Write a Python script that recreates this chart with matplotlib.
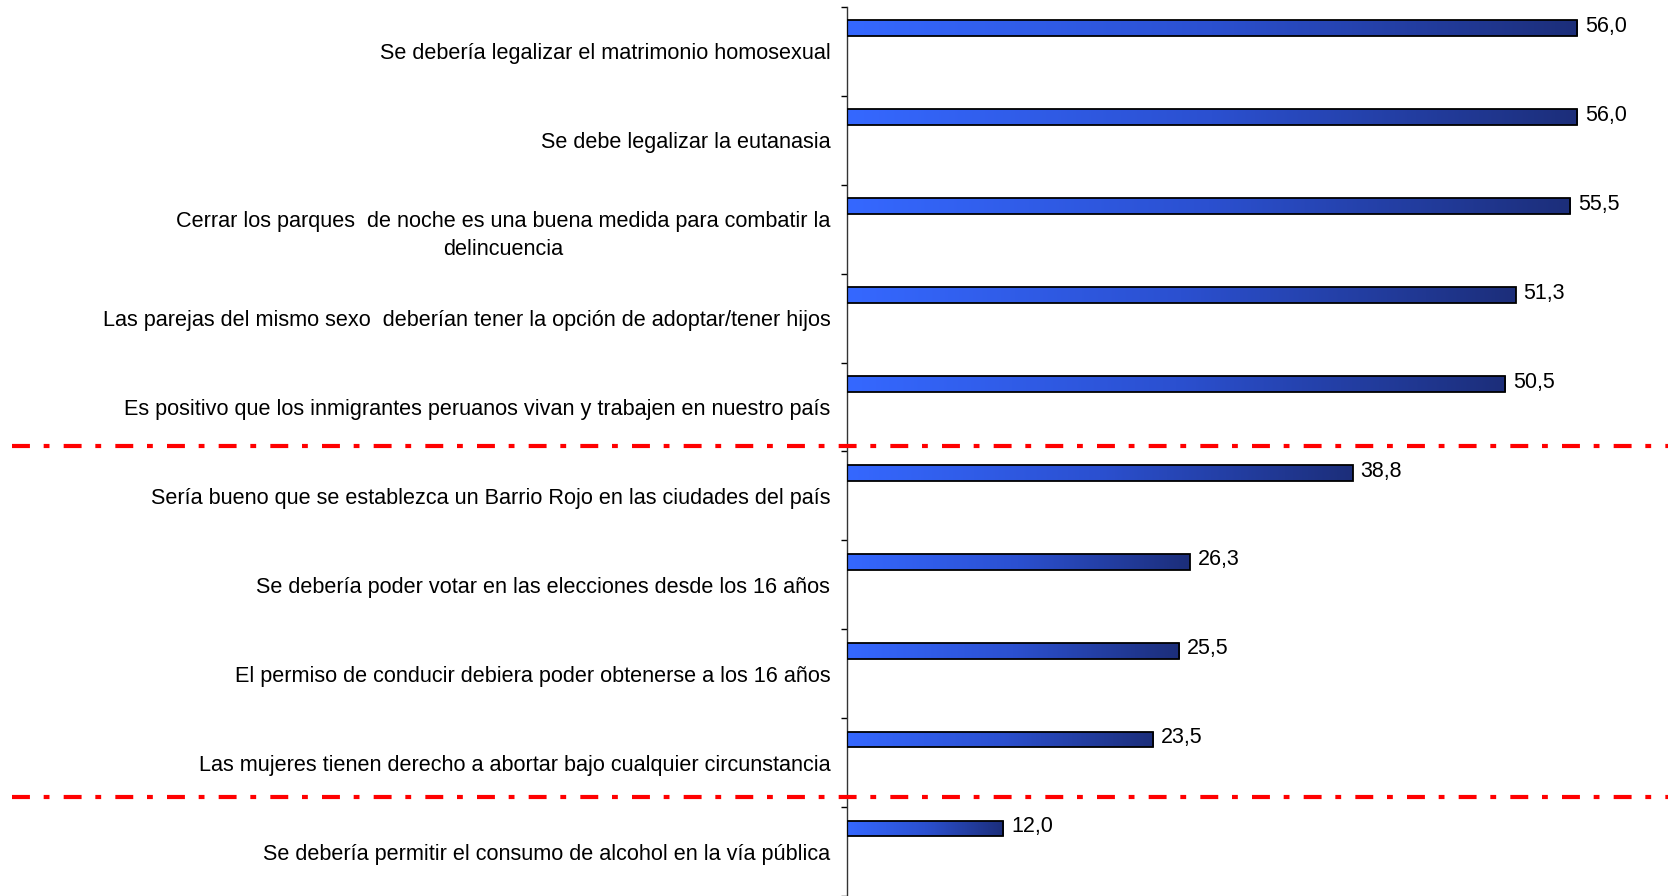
import numpy as np
import matplotlib
matplotlib.use("Agg")
import matplotlib.pyplot as plt
from matplotlib.colors import LinearSegmentedColormap
from matplotlib.patches import Rectangle

categories = [
    "Se debería legalizar el matrimonio homosexual",
    "Se debe legalizar la eutanasia",
    "Cerrar los parques  de noche es una buena medida para combatir la\ndelincuencia",
    "Las parejas del mismo sexo  deberían tener la opción de adoptar/tener hijos",
    "Es positivo que los inmigrantes peruanos vivan y trabajen en nuestro país",
    "Sería bueno que se establezca un Barrio Rojo en las ciudades del país",
    "Se debería poder votar en las elecciones desde los 16 años",
    "El permiso de conducir debiera poder obtenerse a los 16 años",
    "Las mujeres tienen derecho a abortar bajo cualquier circunstancia",
    "Se debería permitir el consumo de alcohol en la vía pública",
]
values = [56.0, 56.0, 55.5, 51.3, 50.5, 38.8, 26.3, 25.5, 23.5, 12.0]
value_labels = ["56,0", "56,0", "55,5", "51,3", "50,5", "38,8", "26,3", "25,5", "23,5", "12,0"]
separator_positions = [4.44, 8.39]

plt.rcParams['font.family'] = ['Liberation Sans', 'DejaVu Sans']

W, H = 1668, 896
fig = plt.figure(figsize=(W / 100, H / 100), dpi=100)
ax_left = 847 / W
ax_top = 7 / H
ax = fig.add_axes([ax_left, 0, 1 - ax_left, 1 - ax_top])

n = len(categories)
xmax = (W - 847) / (730 / 56.0)

cmap = LinearSegmentedColormap.from_list("g", ["#3568FF", "#2B50D0", "#1C2E7A"])
grad = np.linspace(0, 1, 256).reshape(1, -1)

offset = -0.26
height = 0.178
for i, v in enumerate(values):
    y0 = i + offset - height / 2
    rect = Rectangle((0, y0), v, height, facecolor="none", edgecolor="black", linewidth=1.3, zorder=3)
    ax.add_patch(rect)
    im = ax.imshow(grad, cmap=cmap, aspect="auto", extent=(0, v, y0 + height, y0), zorder=2, interpolation="bicubic")
    im.set_clip_path(rect)
    ax.text(v + 0.6, i + offset - 0.02, value_labels[i], va="center", ha="left", fontsize=15.5, color="black")

ax.set_xlim(0, xmax)
ax.set_ylim(n - 0.5, -0.5)

ax.set_yticks(range(n))
ax.set_yticklabels(categories, fontsize=15.6, linespacing=1.45, multialignment="center")
ax.tick_params(axis="y", which="major", length=0, pad=12)
ax.set_yticks(np.arange(-0.5, n, 1.0), minor=True)
ax.tick_params(axis="y", which="minor", length=4.5, width=1, direction="out", color="black")
ax.set_xticks([])

for s in ["top", "right", "bottom"]:
    ax.spines[s].set_visible(False)
ax.spines["left"].set_linewidth(1.0)
ax.spines["left"].set_color("#333333")

# red dash-dot separators across the figure
for yp in separator_positions:
    yfig = ax.transData.transform((0, yp))[1]
    yf = fig.transFigure.inverted().transform((0, yfig))[1]
    fig.add_artist(plt.Line2D([12 / W, 1.0], [yf, yf], transform=fig.transFigure,
                              color="#FF0000", linewidth=3.0,
                              linestyle=(0, (4.3, 3.3, 1.4, 3.4)), zorder=5))

fig.savefig("out.png", dpi=100)
